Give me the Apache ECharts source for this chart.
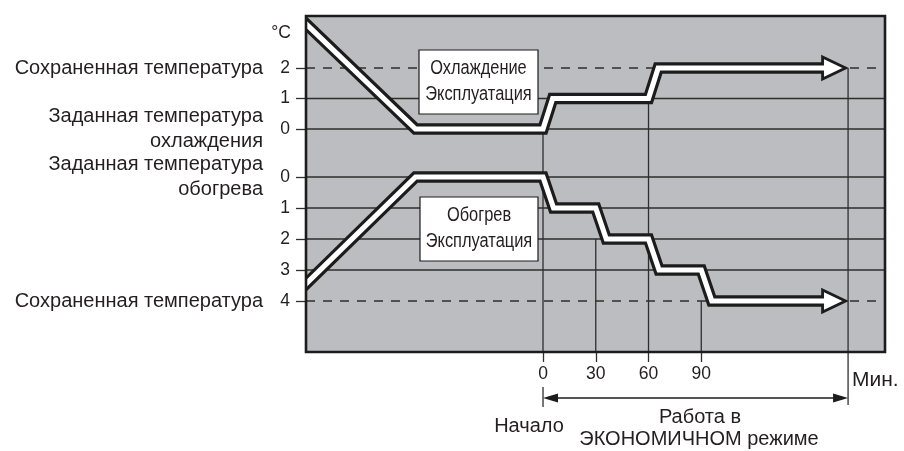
<!DOCTYPE html>
<html><head><meta charset="utf-8">
<script src="https://cdn.jsdelivr.net/npm/echarts@6.0.0/dist/echarts.min.js"></script>
<style>html,body{margin:0;padding:0;background:#fff}#c{width:904px;height:451px}</style>
</head><body><div id="c"></div><script>
// ---------- data ----------
const minuteTicks = [0, 30, 60, 90];
const startMinute = 0;
const endMinute = 173.5;
const coolLevels = [2, 1, 0];
const heatLevels = [0, 1, 2, 3, 4];
const coolSaved = 2;
const heatSaved = 4;
const coolNames = { 2: 'Сохраненная температура', 0: 'Заданная температура\nохлаждения' };
const heatNames = { 0: 'Заданная температура\nобогрева', 4: 'Сохраненная температура' };
const coolPathMin = [-134.8, -72.5, 0, 5.5, 60, 65.5, 173.5];
const coolPathVal = [3.45, 0, 0, 1, 1, 2, 2];
const heatPathMin = [-134.8, -72.5, 0, 6, 30, 36, 60, 66, 90, 96, 173.5];
const heatPathVal = [3.45, 0, 0, 1, 1, 2, 2, 3, 3, 4, 4];
const coolDropMin = [0, 60, 173.5];
const coolDropVal = [0, 1, 2];
const heatDropMin = [30, 90];
const heatDropVal = [2, 4];
const coolBoxText = ['Охлаждение', 'Эксплуатация'];
const heatBoxText = ['Обогрев', 'Эксплуатация'];
const unitText = '°C';
const minuteUnit = 'Мин.';
const startText = 'Начало';
const ecoText = ['Работа в', 'ЭКОНОМИЧНОМ режиме'];

// ---------- layout ----------
const X_MIN = -134.8, X_MAX = 194.5;
const C_MIN = -7.311, C_MAX = 3.705;
const H_MIN = -5.194, H_MAX = 5.645;
const GRID = { left: 306, top: 16, width: 579, height: 336 };
const FONT = "'Liberation Sans', Arial, Helvetica, sans-serif";
const TEXT = '#231f20';
const LINE = '#2e2e2e';
const BLACK = '#1c1c1c';

function fontAvailable(name) {
  const ctx = document.createElement('canvas').getContext('2d');
  const s = 'Эксплуатация Abc';
  ctx.font = '20px monospace';
  const a = ctx.measureText(s).width;
  ctx.font = '20px "' + name + '", monospace';
  const b = ctx.measureText(s).width;
  return Math.abs(a - b) > 0.5;
}
const narrowOK = fontAvailable('Liberation Sans Narrow');
const BOX_FONT = narrowOK ? "'Liberation Sans Narrow', 'Liberation Sans', Arial, sans-serif" : FONT;
const BOX_SCALE = narrowOK ? 1 : 0.82;

const chart = echarts.init(document.getElementById('c'), null, { renderer: 'canvas' });

function pathRender(xs, ys) {
  return function (params, api) {
    if (params.dataIndex !== 0) return null;
    const pts = xs.map((x, i) => api.coord([x, ys[i]]));
    const d0 = [pts[0][0] - pts[1][0], pts[0][1] - pts[1][1]];
    const L = Math.hypot(d0[0], d0[1]);
    pts[0] = [pts[0][0] + d0[0] / L * 20, pts[0][1] + d0[1] / L * 20];
    const tip = pts[pts.length - 1];
    const tipX = tip[0] - 2.5;
    const baseX = tipX - 23;
    const shaft = pts.slice(0, -1).concat([[baseX, tip[1]]]);
    const inner = pts.slice(0, -1).concat([[baseX + 4, tip[1]]]);
    return {
      type: 'group',
      children: [
        { type: 'polyline', shape: { points: shaft }, style: { stroke: BLACK, lineWidth: 11.5, lineJoin: 'miter', miterLimit: 10, fill: null } },
        { type: 'polygon', shape: { points: [[baseX, tip[1] - 11], [tipX, tip[1]], [baseX, tip[1] + 11]] }, style: { fill: '#fff', stroke: BLACK, lineWidth: 2.8, lineJoin: 'miter', miterLimit: 10 } },
        { type: 'polyline', shape: { points: inner }, style: { stroke: '#fff', lineWidth: 5.2, lineJoin: 'miter', miterLimit: 10, fill: null } }
      ]
    };
  };
}

function refRender(saved) {
  return function (params, api) {
    const cs = params.coordSys;
    const v = api.value(1);
    const y = api.coord([0, v])[1];
    return {
      type: 'line',
      shape: { x1: cs.x, y1: y, x2: cs.x + cs.width, y2: y },
      style: { stroke: LINE, lineWidth: 1.3, lineDash: v === saved ? [9, 8] : null }
    };
  };
}

function dropRender(params, api) {
  const cs = params.coordSys;
  const m = api.value(0);
  const p = api.coord([m, api.value(1)]);
  const bottom = cs.y + cs.height + (m === endMinute ? 53 : 0);
  return {
    type: 'line',
    shape: { x1: p[0], y1: p[1], x2: p[0], y2: bottom },
    style: { stroke: LINE, lineWidth: 1.3 }
  };
}

function bracketRender(params, api) {
  const cs = params.coordSys;
  const x0 = api.coord([api.value(0), 0])[0];
  const x1 = api.coord([api.value(1), 0])[0];
  const b = cs.y + cs.height;
  const y = b + 46;
  return {
    type: 'group',
    children: [
      { type: 'line', shape: { x1: x0, y1: b + 35, x2: x0, y2: b + 55 }, style: { stroke: LINE, lineWidth: 1.3 } },
      { type: 'line', shape: { x1: x0 + 10, y1: y, x2: x1 - 10, y2: y }, style: { stroke: BLACK, lineWidth: 1.3 } },
      { type: 'polygon', shape: { points: [[x0, y], [x0 + 15, y - 4.5], [x0 + 15, y + 4.5]] }, style: { fill: BLACK } },
      { type: 'polygon', shape: { points: [[x1, y], [x1 - 15, y - 4.5], [x1 - 15, y + 4.5]] }, style: { fill: BLACK } }
    ]
  };
}

function numAxis(min, max, levels, inverse) {
  return {
    type: 'value', min: min, max: max, inverse: inverse, position: 'left',
    axisLine: { show: false, onZero: false }, splitLine: { show: false },
    axisTick: { show: true, customValues: levels, length: 10, lineStyle: { color: LINE, width: 1.3 } },
    axisLabel: { customValues: levels, margin: 16, fontSize: 17.5, color: TEXT, fontFamily: FONT }
  };
}
function nameAxis(min, max, names, inverse) {
  return {
    type: 'value', min: min, max: max, inverse: inverse, position: 'left',
    axisLine: { show: false, onZero: false }, splitLine: { show: false }, axisTick: { show: false },
    axisLabel: {
      customValues: Object.keys(names).map(Number), margin: 43, fontSize: 20, lineHeight: 25,
      color: TEXT, fontFamily: FONT, align: 'right',
      formatter: v => names[v] || ''
    }
  };
}

function boxElements(x, y, w, h, lines) {
  const cx = x + w / 2;
  const els = [{ type: 'rect', z: 50, shape: { x: x, y: y, width: w, height: h }, style: { fill: '#fff', stroke: BLACK, lineWidth: 1.2 } }];
  lines.forEach((t, i) => {
    els.push({ type: 'text', z: 51, x: cx, y: y + 18.5 + i * 26, scaleX: BOX_SCALE,
      style: { text: t, align: 'center', verticalAlign: 'middle', fontSize: 20, fontFamily: BOX_FONT, fill: TEXT } });
  });
  return els;
}

const option = {
  animation: false,
  grid: { left: GRID.left, top: GRID.top, width: GRID.width, height: GRID.height, show: true, backgroundColor: '#bcbdc0', borderWidth: 0, outerBoundsMode: 'none' },
  xAxis: {
    type: 'value', min: X_MIN, max: X_MAX, position: 'bottom',
    axisLine: { show: false, onZero: false }, splitLine: { show: false },
    axisTick: { show: true, customValues: minuteTicks, length: 10, lineStyle: { color: LINE, width: 1.3 } },
    axisLabel: { customValues: minuteTicks, margin: 13, fontSize: 17.5, color: TEXT, fontFamily: FONT }
  },
  yAxis: [
    numAxis(C_MIN, C_MAX, coolLevels, false),
    numAxis(H_MIN, H_MAX, heatLevels, true),
    nameAxis(C_MIN, C_MAX, coolNames, false),
    nameAxis(H_MIN, H_MAX, heatNames, true)
  ],
  series: [
    { type: 'custom', name: 'coolRef', yAxisIndex: 0, z: 1, renderItem: refRender(coolSaved), data: coolLevels.map(v => [0, v]), encode: { x: 0, y: 1 }, silent: true },
    { type: 'custom', name: 'heatRef', yAxisIndex: 1, z: 1, renderItem: refRender(heatSaved), data: heatLevels.map(v => [0, v]), encode: { x: 0, y: 1 }, silent: true },
    { type: 'custom', name: 'coolDrop', yAxisIndex: 0, z: 2, renderItem: dropRender, data: coolDropMin.map((m, i) => [m, coolDropVal[i]]), encode: { x: 0, y: 1 }, silent: true },
    { type: 'custom', name: 'heatDrop', yAxisIndex: 1, z: 2, renderItem: dropRender, data: heatDropMin.map((m, i) => [m, heatDropVal[i]]), encode: { x: 0, y: 1 }, silent: true },
    { type: 'custom', name: 'bracket', yAxisIndex: 0, z: 2, renderItem: bracketRender, data: [[startMinute, endMinute]], encode: { x: [0, 1] }, silent: true },
    { type: 'custom', name: 'cooling', yAxisIndex: 0, z: 5, clip: true, renderItem: pathRender(coolPathMin, coolPathVal), data: coolPathMin.map((m, i) => [m, coolPathVal[i]]), encode: { x: 0, y: 1 }, silent: true },
    { type: 'custom', name: 'heating', yAxisIndex: 1, z: 5, clip: true, renderItem: pathRender(heatPathMin, heatPathVal), data: heatPathMin.map((m, i) => [m, heatPathVal[i]]), encode: { x: 0, y: 1 }, silent: true }
  ],
  graphic: [].concat(
    boxElements(419, 50, 119, 64, coolBoxText),
    boxElements(420, 197, 118, 64, heatBoxText),
    [
      { type: 'rect', z: 60, shape: { x: GRID.left, y: GRID.top, width: GRID.width, height: GRID.height }, style: { fill: null, stroke: BLACK, lineWidth: 2.6 } },
      { type: 'text', z: 60, x: 291, y: 33, style: { text: unitText, align: 'right', verticalAlign: 'middle', fontSize: 17.5, fontFamily: FONT, fill: TEXT } },
      { type: 'text', z: 60, x: 852, y: 380, style: { text: minuteUnit, align: 'left', verticalAlign: 'middle', fontSize: 21, fontFamily: FONT, fill: TEXT } },
      { type: 'text', z: 60, x: 529, y: 426, style: { text: startText, align: 'center', verticalAlign: 'middle', fontSize: 20, fontFamily: FONT, fill: TEXT } },
      { type: 'text', z: 60, x: 700, y: 417, style: { text: ecoText[0], align: 'center', verticalAlign: 'middle', fontSize: 20, fontFamily: FONT, fill: TEXT } },
      { type: 'text', z: 60, x: 699, y: 439, style: { text: ecoText[1], align: 'center', verticalAlign: 'middle', fontSize: 20, fontFamily: FONT, fill: TEXT } }
    ]
  )
};
chart.setOption(option);
</script></body></html>
